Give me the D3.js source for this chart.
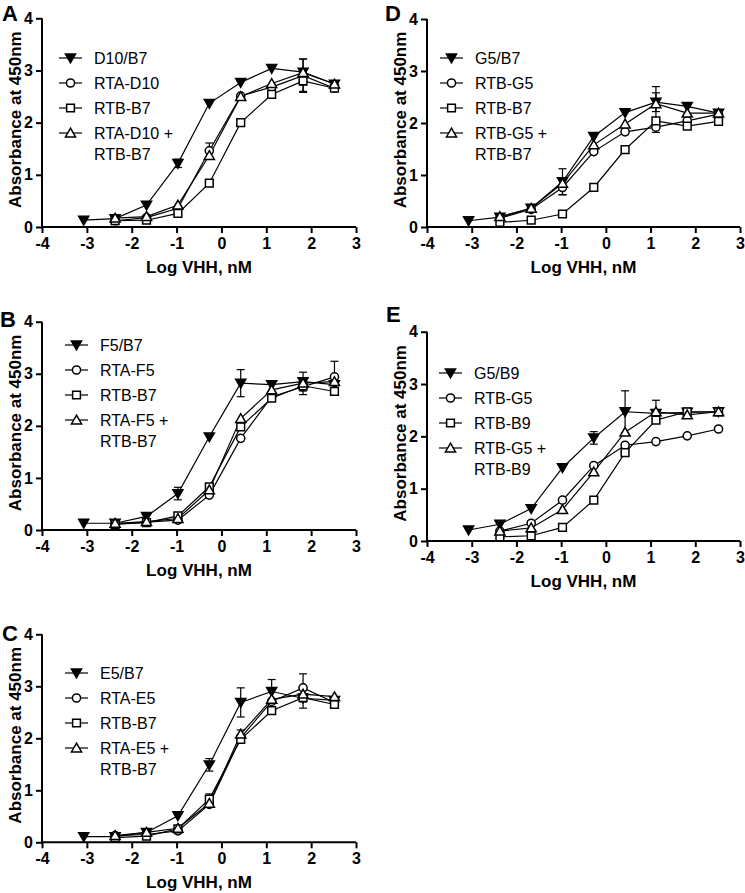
<!DOCTYPE html>
<html>
<head>
<meta charset="utf-8">
<script src="https://cdn.jsdelivr.net/npm/d3@7"></script>
<style>
  html, body { margin: 0; padding: 0; background: #fff; }
  svg { display: block; font-family: Arial, "Liberation Sans", sans-serif; }
  .tick text { font-size: 16px !important; font-weight: bold; font-family: Arial, "Liberation Sans", sans-serif; }
</style>
</head>
<body>
<svg id="chart" width="745" height="893"></svg>
<script>
// ---------- DATA ----------
const logConc = [-3.07, -2.37, -1.67, -0.97, -0.27, 0.43, 1.12, 1.82, 2.52];
const xTicks = [-4, -3, -2, -1, 0, 1, 2, 3];
const yTicks = [0, 1, 2, 3, 4];
const xTitle = "Log VHH, nM";
const yTitle = "Absorbance at 450nm";

// Panel A
const namesA = ["D10/B7", "RTA-D10", "RTB-B7", "RTA-D10 +|RTB-B7"];
const valuesA = [
  [0.13, 0.16, 0.42, 1.22, 2.37, 2.77, 3.04, 2.97, 2.74],
  [null, 0.12, 0.18, 0.36, 1.46, 2.51, 2.68, 2.90, 2.66],
  [null, 0.12, 0.13, 0.26, 0.84, 2.00, 2.54, 2.80, 2.66],
  [null, 0.17, 0.20, 0.42, 1.37, 2.50, 2.75, 2.96, 2.74]
];
const errorsA = [
  [0, 0, 0, 0.08, 0, 0, 0, 0.25, 0],
  [0, 0, 0, 0, 0.15, 0, 0, 0.32, 0],
  [0, 0, 0, 0, 0, 0, 0, 0.2, 0],
  [0, 0, 0, 0, 0, 0, 0, 0, 0]
];

// Panel B
const namesB = ["F5/B7", "RTA-F5", "RTB-B7", "RTA-F5 +|RTB-B7"];
const valuesB = [
  [0.13, 0.13, 0.26, 0.70, 1.79, 2.82, 2.79, 2.85, 2.79],
  [null, 0.11, 0.15, 0.19, 0.67, 1.76, 2.56, 2.75, 2.94],
  [null, 0.11, 0.14, 0.27, 0.83, 1.98, 2.53, 2.77, 2.66],
  [null, 0.13, 0.16, 0.22, 0.77, 2.14, 2.69, 2.82, 2.85]
];
const errorsB = [
  [0, 0, 0, 0.12, 0, 0.26, 0, 0.18, 0],
  [0, 0, 0, 0, 0, 0, 0, 0.15, 0.3],
  [0, 0, 0, 0, 0, 0, 0, 0, 0],
  [0, 0, 0, 0, 0, 0, 0, 0, 0]
];

// Panel C
const namesC = ["E5/B7", "RTA-E5", "RTB-B7", "RTA-E5 +|RTB-B7"];
const valuesC = [
  [0.11, 0.11, 0.19, 0.51, 1.49, 2.69, 2.90, 2.77, 2.73],
  [null, 0.13, 0.15, 0.22, 0.73, 2.01, 2.71, 2.97, 2.69],
  [null, 0.09, 0.12, 0.26, 0.83, 1.98, 2.53, 2.78, 2.65],
  [null, 0.13, 0.19, 0.27, 0.75, 2.08, 2.75, 2.85, 2.80]
];
const errorsC = [
  [0, 0, 0, 0, 0.12, 0.28, 0.23, 0, 0],
  [0, 0, 0, 0, 0, 0, 0, 0.27, 0],
  [0, 0, 0, 0, 0.1, 0, 0, 0.2, 0],
  [0, 0, 0, 0, 0, 0.08, 0, 0, 0]
];

// Panel D
const namesD = ["G5/B7", "RTB-G5", "RTB-B7", "RTB-G5 +|RTB-B7"];
const valuesD = [
  [0.12, 0.19, 0.36, 0.87, 1.74, 2.20, 2.40, 2.32, 2.19],
  [null, 0.17, 0.34, 0.76, 1.45, 1.83, 1.92, 2.04, 2.17],
  [null, 0.09, 0.13, 0.25, 0.76, 1.49, 2.04, 1.94, 2.03],
  [null, 0.20, 0.36, 0.84, 1.58, 1.98, 2.37, 2.19, 2.19]
];
const errorsD = [
  [0, 0, 0, 0.25, 0, 0, 0.18, 0, 0],
  [0, 0, 0, 0.14, 0, 0, 0.1, 0, 0],
  [0, 0, 0, 0, 0, 0, 0, 0, 0],
  [0, 0, 0, 0, 0, 0, 0.33, 0, 0]
];

// Panel E
const namesE = ["G5/B9", "RTB-G5", "RTB-B9", "RTB-G5 +|RTB-B9"];
const valuesE = [
  [0.21, 0.32, 0.62, 1.40, 1.97, 2.47, 2.44, 2.46, 2.47],
  [null, 0.19, 0.34, 0.78, 1.44, 1.83, 1.90, 2.01, 2.14],
  [null, 0.08, 0.10, 0.26, 0.78, 1.69, 2.31, 2.47, 2.47],
  [null, 0.19, 0.25, 0.60, 1.32, 2.08, 2.47, 2.41, 2.47]
];
const errorsE = [
  [0, 0, 0, 0, 0.12, 0.4, 0, 0, 0],
  [0, 0, 0, 0, 0, 0, 0, 0, 0],
  [0, 0, 0, 0, 0, 0, 0, 0, 0],
  [0, 0, 0, 0, 0, 0, 0.22, 0, 0]
];

// ---------- LAYOUT ----------
const panels = [
  {letter: "A", names: namesA, values: valuesA, errors: errorsA, x0: 42, x1: 356, y0: 227, y4: 18.3, lx: 2, ly: 21, legX: 59, legY: 58},
  {letter: "D", names: namesD, values: valuesD, errors: errorsD, x0: 427, x1: 740, y0: 227, y4: 19, lx: 385, ly: 21, legX: 440, legY: 58},
  {letter: "B", names: namesB, values: valuesB, errors: errorsB, x0: 42, x1: 356, y0: 530, y4: 321.7, lx: 0, ly: 327, legX: 65, legY: 345},
  {letter: "E", names: namesE, values: valuesE, errors: errorsE, x0: 427, x1: 740, y0: 541, y4: 331.7, lx: 386, ly: 322, legX: 439, legY: 373},
  {letter: "C", names: namesC, values: valuesC, errors: errorsC, x0: 42, x1: 356, y0: 842.3, y4: 634.3, lx: 2, ly: 641, legX: 65, legY: 673}
];

const symbolDefs = [
  {type: d3.symbolTriangle, size: 44, rotate: 180, fill: "#000"},
  {type: d3.symbolCircle, size: 52, rotate: 0, fill: "#fff"},
  {type: d3.symbolSquare, size: 60, rotate: 0, fill: "#fff"},
  {type: d3.symbolTriangle, size: 44, rotate: 0, fill: "#fff"}
];

const svg = d3.select("#chart");

function drawMarker(g, i, cx, cy) {
  const s = symbolDefs[i];
  const sym = d3.symbol().type(s.type).size(s.size);
  const off = s.type === d3.symbolTriangle ? (s.rotate ? -1 : 1) : 0;
  g.append("path")
    .attr("d", sym())
    .attr("transform", `translate(${cx},${cy + off}) rotate(${s.rotate})`)
    .attr("fill", s.fill)
    .attr("stroke", "#000")
    .attr("stroke-width", 1.5);
}

panels.forEach(p => {
  const x = d3.scaleLinear().domain([-4, 3]).range([p.x0, p.x1]);
  const y = d3.scaleLinear().domain([0, 4]).range([p.y0, p.y4]);
  const g = svg.append("g");

  // axes
  const xAxis = d3.axisBottom(x).tickValues(xTicks).tickSize(6).tickPadding(4).tickFormat(d => String(d));
  const yAxis = d3.axisLeft(y).tickValues(yTicks).tickSize(6).tickPadding(3).tickFormat(d => String(d));
  const gx = g.append("g").attr("transform", `translate(0,${p.y0})`).call(xAxis);
  const gy = g.append("g").attr("transform", `translate(${p.x0},0)`).call(yAxis);
  [gx, gy].forEach(a => {
    a.attr("font-size", 16).attr("font-family", "Arial, 'Liberation Sans', sans-serif");
    a.select(".domain").attr("stroke", "#000").attr("stroke-width", 2);
    a.selectAll(".tick line").attr("stroke", "#000").attr("stroke-width", 2);
    a.selectAll(".tick text").attr("fill", "#000").style("font-size", "16px").style("font-weight", "bold");
  });
  gx.select(".domain").attr("d", `M${p.x0},0H${p.x1}`);
  gy.select(".domain").attr("d", `M0,${p.y0}V${p.y4}`);
  gx.selectAll(".tick text").attr("dy", "0.72em");

  // axis titles
  g.append("text").attr("x", (p.x0 + p.x1) / 2).attr("y", p.y0 + 46)
    .attr("text-anchor", "middle").attr("font-size", 17).attr("font-weight", "bold").text(xTitle);
  g.append("text")
    .attr("transform", `translate(${p.x0 - 21},${(p.y0 + p.y4) / 2 - 3}) rotate(-90)`)
    .attr("text-anchor", "middle").attr("font-size", 17).attr("font-weight", "bold").text(yTitle);

  // panel letter
  g.append("text").attr("x", p.lx).attr("y", p.ly).attr("font-size", 22).attr("font-weight", "bold").text(p.letter);

  // lines
  p.values.forEach((vals, si) => {
    const pts = vals.map((v, i) => [logConc[i], v]).filter(d => d[1] !== null);
    g.append("path")
      .attr("d", d3.line().x(d => x(d[0])).y(d => y(d[1]))(pts))
      .attr("fill", "none").attr("stroke", "#000").attr("stroke-width", 1.2);
  });

  // error bars
  p.values.forEach((vals, si) => {
    vals.forEach((v, i) => {
      const e = p.errors[si][i];
      if (v === null || !e) return;
      const cx = x(logConc[i]);
      const top = y(v + e), bot = y(v - e);
      g.append("line").attr("x1", cx).attr("x2", cx).attr("y1", top).attr("y2", bot).attr("stroke", "#000").attr("stroke-width", 1.2);
      [top, bot].forEach(yy => g.append("line").attr("x1", cx - 4).attr("x2", cx + 4).attr("y1", yy).attr("y2", yy).attr("stroke", "#000").attr("stroke-width", 1.2));
    });
  });

  // markers
  p.values.forEach((vals, si) => {
    vals.forEach((v, i) => {
      if (v === null) return;
      drawMarker(g, si, x(logConc[i]), y(v));
    });
  });

  // legend
  p.names.forEach((name, si) => {
    const ry = p.legY + si * 25;
    g.append("line").attr("x1", p.legX).attr("x2", p.legX + 23).attr("y1", ry).attr("y2", ry)
      .attr("stroke", "#000").attr("stroke-width", 1.2);
    drawMarker(g, si, p.legX + 11.5, ry);
    const parts = name.split("|");
    parts.forEach((t, k) => {
      g.append("text").attr("x", p.legX + 35).attr("y", ry + 6 + k * 21)
        .attr("font-size", 16).attr("fill", "#000").text(t);
    });
  });
});
</script>
</body>
</html>
